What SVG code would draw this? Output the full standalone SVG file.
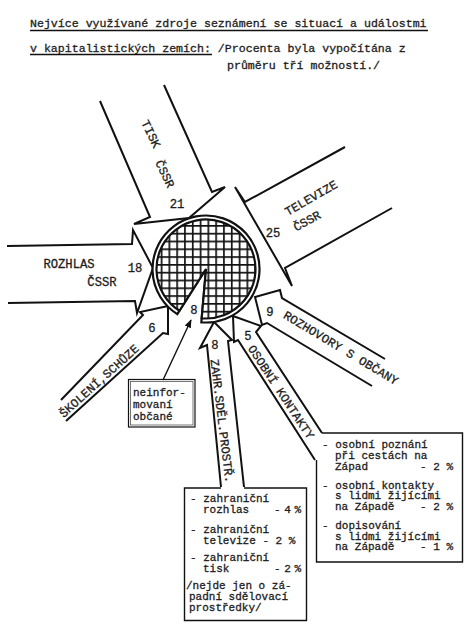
<svg xmlns="http://www.w3.org/2000/svg" width="466" height="642" viewBox="0 0 466 642">
<style>
.t{font-family:"Liberation Mono","DejaVu Sans Mono",monospace;fill:#1c1c1c;stroke:#1c1c1c;stroke-width:0.3}
.ti{font-size:11.6px}
.lb{font-size:12.2px}
.bx{font-size:11px}
.ar{fill:none;stroke:#111;stroke-width:2;stroke-linejoin:miter}
.ln{fill:none;stroke:#111;stroke-width:1.4}
.ul{stroke:#111;stroke-width:1.3}
</style>
<defs>
<pattern id="grid" patternUnits="userSpaceOnUse" x="4.7" y="6.6" width="7.8" height="7.8">
<rect width="7.8" height="7.8" fill="#fff"/>
<rect x="0" y="0" width="1.7" height="7.8" fill="#111"/>
<rect x="0" y="0" width="7.8" height="1.7" fill="#111"/>
</pattern>
<marker id="ah" viewBox="0 0 10 10" refX="9" refY="5" markerWidth="6" markerHeight="6" orient="auto">
<path d="M0,1L10,5L0,9Z" fill="#111"/>
</marker>
</defs>
<rect width="466" height="642" fill="#fff"/>

<g id="title">
<text class="t ti" x="30" y="27">Nejvíce využívané zdroje seznámení se situací a událostmi</text>
<line class="ul" x1="30" y1="30.5" x2="428" y2="30.5"/>
<text class="t ti" x="30" y="51.5">v kapitalistických zemích: /Procenta byla vypočítána z</text>
<line class="ul" x1="30" y1="54.5" x2="212" y2="54.5"/>
<text class="t ti" x="227" y="69">průměru tří možností./</text>
</g>

<g id="tisk">
<path class="ar" d="M100,101 L150,217 L134,224 L189,218 L225,187 L212,192 L164,85"/>
<text class="t lb" text-anchor="middle" transform="translate(151,134) rotate(64)" y="4">TISK</text>
<text class="t lb" text-anchor="middle" transform="translate(165,174) rotate(64)" y="4">ČSSR</text>
<text class="t lb" text-anchor="middle" x="177" y="208">21</text>
</g>

<g id="televize">
<path class="ar" d="M345,147 L245,202 L235,187 L292,286 L285,268 L392,208"/>
<text class="t lb" text-anchor="middle" transform="translate(311,198) rotate(-30)" y="4">TELEVIZE</text>
<text class="t lb" text-anchor="middle" transform="translate(307,221) rotate(-29)" y="4">ČSSR</text>
<text class="t lb" text-anchor="middle" x="273" y="237">25</text>
</g>

<g id="rozhlas">
<path class="ar" d="M7,246 L132,244 L133,230 L153,268 L137,313 L135,301 L8,303"/>
<text class="t lb" text-anchor="middle" x="69" y="268">ROZHLAS</text>
<text class="t lb" text-anchor="middle" x="102" y="286">ČSSR</text>
<text class="t lb" text-anchor="middle" x="135" y="272">18</text>
</g>

<g id="skoleni">
<path class="ar" d="M61,400 L143,315 L140,312 L168,306 L168,334 L163,333 L66,421"/>
<text class="t lb" text-anchor="middle" transform="translate(99,381) rotate(-42)" y="4">ŠKOLENÍ,SCHŮZE</text>
<text class="t lb" text-anchor="middle" x="152" y="332">6</text>
</g>

<g id="zahr">
<path class="ar" d="M221,487 L207,345 L200,348 L214,322 L232,340 L228,341 L244,487"/>
<text class="t lb" text-anchor="middle" transform="translate(222,421) rotate(83)" y="4">ZAHR.SDĚL.PROSTŘ.</text>
<text class="t lb" text-anchor="middle" x="215" y="349">8</text>
</g>

<g id="osobni">
<path class="ar" d="M315,460 L238,340 L234,342 L233,316 L261,326 L256,332 L322,433"/>
<text class="t lb" text-anchor="middle" transform="translate(281,392) rotate(56.5)" y="4">OSOBNÍ KONTAKTY</text>
<text class="t lb" text-anchor="middle" x="248" y="340">5</text>
</g>

<g id="rozhovory">
<path class="ar" d="M385,359 L282,298 L280,290 L255,297 L262,325 L267,323 L372,386"/>
<text class="t lb" text-anchor="middle" transform="translate(341,348) rotate(31)" y="4">ROZHOVORY S OBČANY</text>
<text class="t lb" text-anchor="middle" x="270" y="316">9</text>
</g>

<g id="circle">
<path d="M206,269 L177.26,314.12 A53.5,53.5 0 1 1 201.34,322.3 Z" fill="#fff" stroke="#111" stroke-width="2.2"/>
<path d="M206,269 L179.4,310.75 A49.5,49.5 0 1 1 201.69,318.31 Z" fill="url(#grid)" stroke="#111" stroke-width="2.2"/>
<text class="t lb" text-anchor="middle" x="194" y="314">8</text>
</g>

<g id="neinformovani">
<rect x="128.5" y="379.5" width="66.5" height="47.5" fill="#fff" stroke="#111" stroke-width="1.2"/>
<rect x="130.5" y="381.5" width="62.5" height="43.5" fill="none" stroke="#555" stroke-width="0.8"/>
<text class="t bx" x="133" y="395.5">neinfor-</text>
<text class="t bx" x="133" y="408">movaní</text>
<text class="t bx" x="133" y="420">občané</text>
</g>

<g id="connectors">
<line class="ln" x1="163" y1="380" x2="191" y2="320" marker-end="url(#ah)"/>
</g>

<g id="box-zahr">
<path class="ln" d="M221,488 H184.5 V620.5 H306.5 V488 H244"/>
<text class="t bx" x="190" y="501.5">- zahraniční</text>
<text class="t bx" x="203" y="513">rozhlas</text>
<text class="t bx" x="274" y="513" textLength="27" lengthAdjust="spacing">- 4 %</text>
<text class="t bx" x="190" y="533">- zahraniční</text>
<text class="t bx" x="203" y="543.5">televize - 2 %</text>
<text class="t bx" x="190" y="561">- zahraniční</text>
<text class="t bx" x="203" y="571.5">tisk</text>
<text class="t bx" x="274" y="571.5" textLength="27" lengthAdjust="spacing">- 2 %</text>
<text class="t bx" x="186" y="589">/nejde jen o zá-</text>
<text class="t bx" x="189" y="600">padní sdělovací</text>
<text class="t bx" x="189" y="610.5">prostředky/</text>
</g>

<g id="box-osobni">
<path class="ln" d="M322,433 H462.5 V562 H316.5 V460"/>
<text class="t bx" x="322" y="448">- osobní poznání</text>
<text class="t bx" x="335" y="459">při cestách na</text>
<text class="t bx" x="335" y="469.5">Západ</text>
<text class="t bx" x="420" y="469.5">- 2 %</text>
<text class="t bx" x="322" y="488.5">- osobní kontakty</text>
<text class="t bx" x="335" y="499">s lidmi žijícími</text>
<text class="t bx" x="335" y="509.5">na Západě</text>
<text class="t bx" x="420" y="509.5">- 2 %</text>
<text class="t bx" x="322" y="529">- dopisování</text>
<text class="t bx" x="335" y="539.5">s lidmi žijícími</text>
<text class="t bx" x="335" y="550">na Západě</text>
<text class="t bx" x="420" y="550">- 1 %</text>
</g>
</svg>
